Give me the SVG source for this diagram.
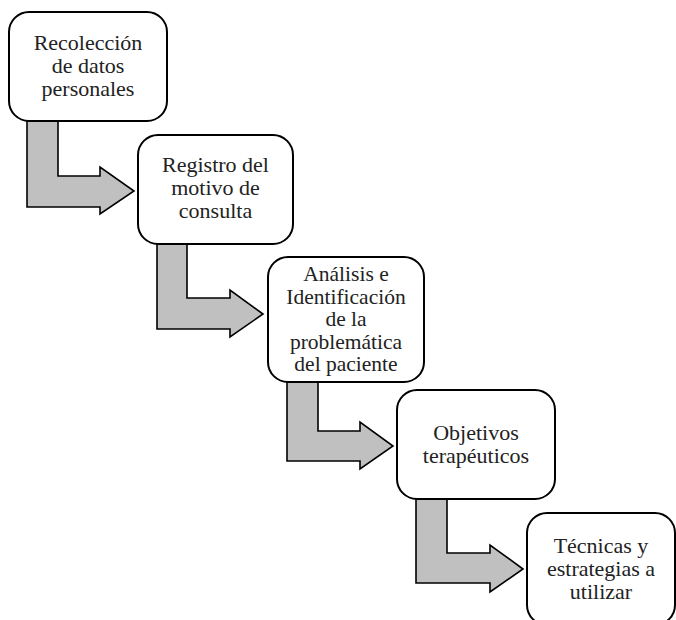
<svg xmlns="http://www.w3.org/2000/svg" width="676" height="620" viewBox="0 0 676 620">
<style>
.box{fill:#fff;stroke:#000;stroke-width:2}
.arr{fill:#c0c0c0;stroke:#000;stroke-width:1.6;stroke-linejoin:miter}
text{font-family:"Liberation Serif","Times New Roman",serif;font-size:22px;fill:#222;text-anchor:middle}
.s{font-size:21.5px}
</style>
<rect width="676" height="620" fill="#fff"/>
<g id="connectors">
<path class="arr" d="M27,121 L58,121 L58,176 L100,176 L100,167 L134,191 L100,214 L100,207 L27,207 Z"/>
<path class="arr" d="M157,244 L187,244 L187,298 L230,298 L230,290 L263,314 L230,337 L230,329 L157,329 Z"/>
<path class="arr" d="M287,382 L318,382 L318,431 L360,431 L360,422 L393,446 L360,469 L360,461 L287,461 Z"/>
<path class="arr" d="M416,499 L447,499 L447,553 L490,553 L490,545 L523,569 L490,592 L490,583 L416,583 Z"/>
</g>
<g id="n1">
<rect class="box" x="9" y="12" width="158" height="109" rx="20"/>
<text x="88" y="50">Recolección</text>
<text x="88" y="73">de datos</text>
<text x="88" y="96">personales</text>
</g>
<g id="n2">
<rect class="box" x="138" y="135" width="155" height="109" rx="20"/>
<text x="215.5" y="172">Registro del</text>
<text x="215.5" y="195">motivo de</text>
<text x="215.5" y="218">consulta</text>
</g>
<g id="n3">
<rect class="box" x="268" y="257" width="156" height="125" rx="20"/>
<text class="s" x="346" y="281">Análisis e</text>
<text class="s" x="346" y="303.5">Identificación</text>
<text class="s" x="346" y="326">de la</text>
<text class="s" x="346" y="348.5">problemática</text>
<text class="s" x="346" y="371">del paciente</text>
</g>
<g id="n4">
<rect class="box" x="397" y="390" width="158" height="109" rx="20"/>
<text x="476" y="440">Objetivos</text>
<text x="476" y="463">terapéuticos</text>
</g>
<g id="n5">
<rect class="box" x="527" y="513" width="148" height="112" rx="20"/>
<text x="601" y="553">Técnicas y</text>
<text x="601" y="576">estrategias a</text>
<text x="601" y="599">utilizar</text>
</g>
</svg>
